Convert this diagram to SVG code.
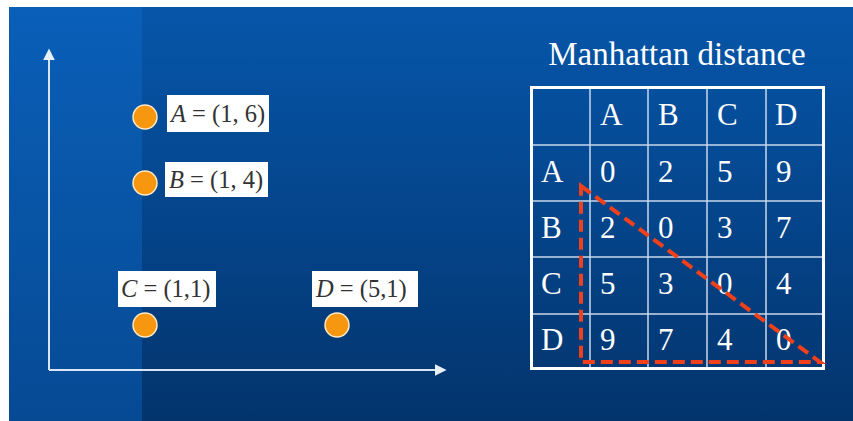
<svg xmlns="http://www.w3.org/2000/svg" width="853" height="421" viewBox="0 0 853 421">
<defs>
<linearGradient id="bg" x1="0" y1="0" x2="0" y2="1">
<stop offset="0" stop-color="#0656aa"/>
<stop offset="1" stop-color="#03346c"/>
</linearGradient>
<linearGradient id="strip" x1="0" y1="0" x2="0" y2="1">
<stop offset="0" stop-color="#0a5fb8"/>
<stop offset="1" stop-color="#064a94"/>
</linearGradient>
<marker id="arr" viewBox="0 0 10 10" refX="2" refY="5" markerWidth="6" markerHeight="6" markerUnits="strokeWidth" orient="auto">
<path d="M0,0 L10,5 L0,10 z" fill="#e8f0f8"/>
</marker>
<style>
.axis{stroke:#d8e6f4;stroke-width:2;fill:none}
.pt{fill:#f7960f;stroke:#ffe9c4;stroke-width:1.5}
.lbox{fill:#ffffff}
.lbl{font-family:"Liberation Serif",serif;font-size:24.5px;fill:#333333}
.it{font-style:italic}
.cell{font-family:"Liberation Serif",serif;font-size:31px;fill:#ffffff}
.grid{stroke:#c8d8ea;stroke-width:1.5;fill:none}
.tri{stroke:#f2401a;stroke-width:4;fill:none;stroke-dasharray:12 6}
</style>
</defs>
<rect x="0" y="0" width="853" height="421" fill="#ffffff"/>
<rect x="9" y="7" width="844" height="414" fill="url(#bg)"/>
<rect x="9" y="7" width="133" height="414" fill="url(#strip)"/>

<g id="connectors">
<line class="axis" x1="49" y1="370" x2="49" y2="58" marker-end="url(#arr)"/>
<line class="axis" x1="49" y1="370" x2="437" y2="370" marker-end="url(#arr)"/>
</g>

<g id="pointA">
<circle class="pt" cx="145" cy="117" r="12"/>
<rect class="lbox" x="167" y="95" width="102" height="37"/>
<text class="lbl" x="171" y="122"><tspan class="it">A</tspan> = (1, 6)</text>
</g>
<g id="pointB">
<circle class="pt" cx="145" cy="183" r="12"/>
<rect class="lbox" x="165" y="162" width="103" height="35"/>
<text class="lbl" x="169" y="188"><tspan class="it">B</tspan> = (1, 4)</text>
</g>
<g id="pointC">
<circle class="pt" cx="145" cy="325" r="12"/>
<rect class="lbox" x="118" y="271" width="98" height="36"/>
<text class="lbl" x="121" y="297"><tspan class="it">C</tspan> = (1,1)</text>
</g>
<g id="pointD">
<circle class="pt" cx="337" cy="325" r="12"/>
<rect class="lbox" x="312" y="271" width="106" height="36"/>
<text class="lbl" x="316" y="297"><tspan class="it">D</tspan> = (5,1)</text>
</g>

<g id="table">
<text x="677" y="65" font-family="Liberation Serif, serif" font-size="33" fill="#ffffff" text-anchor="middle">Manhattan distance</text>
<path class="grid" d="M590,86V370 M648,86V370 M707,86V370 M766,86V370 M530,145H825 M530,201H825 M530,257H825 M530,314H825"/>
<rect x="531.5" y="87.5" width="292" height="281" fill="none" stroke="#ffffff" stroke-width="3"/>
<g class="cell">
<text x="600" y="125">A</text><text x="658" y="125">B</text><text x="717" y="125">C</text><text x="775" y="125">D</text>
<text x="541" y="182">A</text><text x="600" y="182">0</text><text x="658" y="182">2</text><text x="717" y="182">5</text><text x="776" y="182">9</text>
<text x="541" y="238">B</text><text x="600" y="238">2</text><text x="658" y="238">0</text><text x="717" y="238">3</text><text x="776" y="238">7</text>
<text x="541" y="294">C</text><text x="600" y="294">5</text><text x="658" y="294">3</text><text x="717" y="294">0</text><text x="776" y="294">4</text>
<text x="541" y="350">D</text><text x="600" y="350">9</text><text x="658" y="350">7</text><text x="717" y="350">4</text><text x="776" y="350">0</text>
</g>
</g>

<g id="triangle">
<polygon class="tri" points="581,186 820,362 581,362"/>
</g>
</svg>
